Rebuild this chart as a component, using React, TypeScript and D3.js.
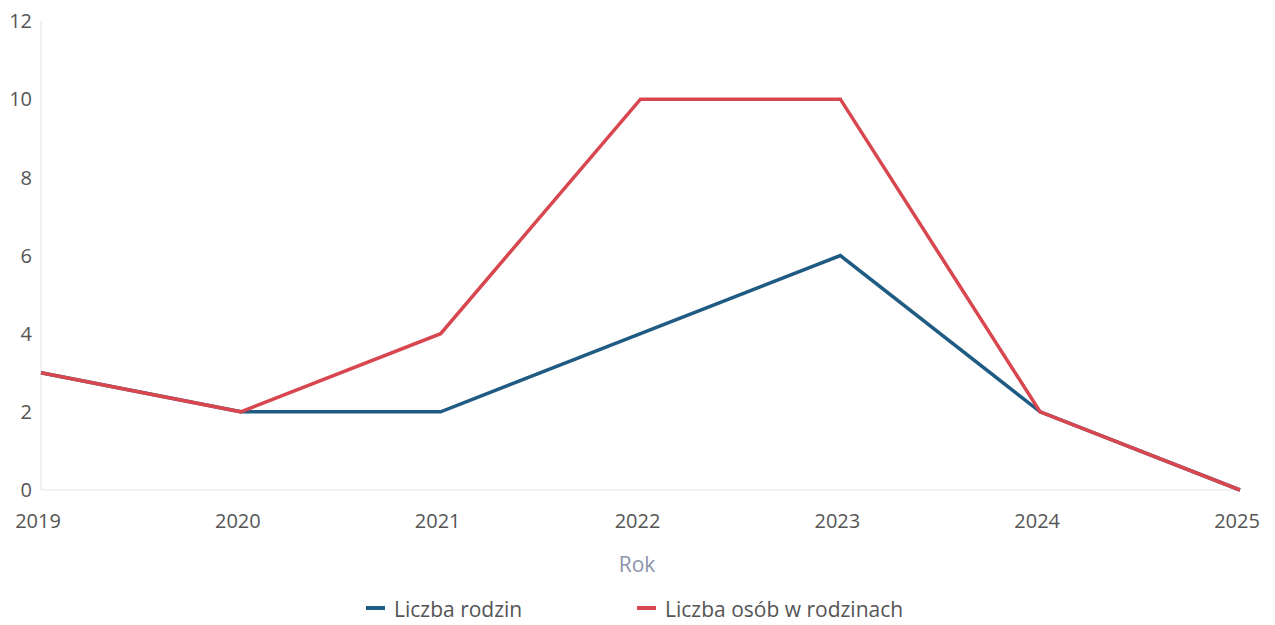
import React from "react";
import * as d3 from "d3";

const years = [2019, 2020, 2021, 2022, 2023, 2024, 2025];
const rodziny = [3, 2, 2, 4, 6, 2, 0];
const osoby = [3, 2, 4, 10, 10, 2, 0];
const yTicks = [0, 2, 4, 6, 8, 10, 12];
const seriesNames = ["Liczba rodzin", "Liczba osób w rodzinach"];
const seriesColors = ["#1f5b82", "#d8474f"];

const W = 1275;
const H = 625;
const FONT = "'Open Sans', 'Noto Sans', sans-serif";

export default function App() {
  const x = d3.scaleLinear().domain([2019, 2025]).range([41, 1240]);
  const y = d3.scaleLinear().domain([0, 12]).range([490, 21]);
  const line = d3
    .line<number>()
    .x((_, i) => x(years[i]))
    .y((d) => y(d));
  const series = [rodziny, osoby];
  const legendX = [366, 637];

  return (
    <svg
      width={W}
      height={H}
      style={{ position: "absolute", left: 0, top: 0, background: "#fff" }}
      fontFamily={FONT}
    >
      <line x1={x(2019)} x2={x(2019)} y1={y(12)} y2={y(0)} stroke="#e6e7ef" strokeWidth={1.2} />
      <line x1={x(2019)} x2={x(2025)} y1={y(0)} y2={y(0)} stroke="#e6e7ef" strokeWidth={1.2} />
      {yTicks.map((t) => (
        <text key={t} x={32} y={y(t)} dy="0.36em" textAnchor="end" fontSize={20} fill="#555">
          {t}
        </text>
      ))}
      {years.map((yr) => (
        <text key={yr} x={x(yr) - 3} y={521} dy="0.36em" textAnchor="middle" fontSize={20} fill="#555">
          {yr}
        </text>
      ))}
      <text x={637} y={564} dy="0.36em" textAnchor="middle" fontSize={21} fill="#8d93ab">
        Rok
      </text>
      {series.map((s, i) => (
        <path
          key={i}
          d={line(s) || ""}
          fill="none"
          stroke={seriesColors[i]}
          strokeWidth={3.5}
          strokeLinejoin="miter"
        />
      ))}
      {seriesNames.map((n, i) => {
        const lx = legendX[i];
        return (
          <g key={n}>
            <line x1={lx} x2={lx + 19} y1={608} y2={608} stroke={seriesColors[i]} strokeWidth={4} />
            <text x={lx + 28} y={609} dy="0.36em" fontSize={21} fill="#555">
              {n}
            </text>
          </g>
        );
      })}
    </svg>
  );
}
